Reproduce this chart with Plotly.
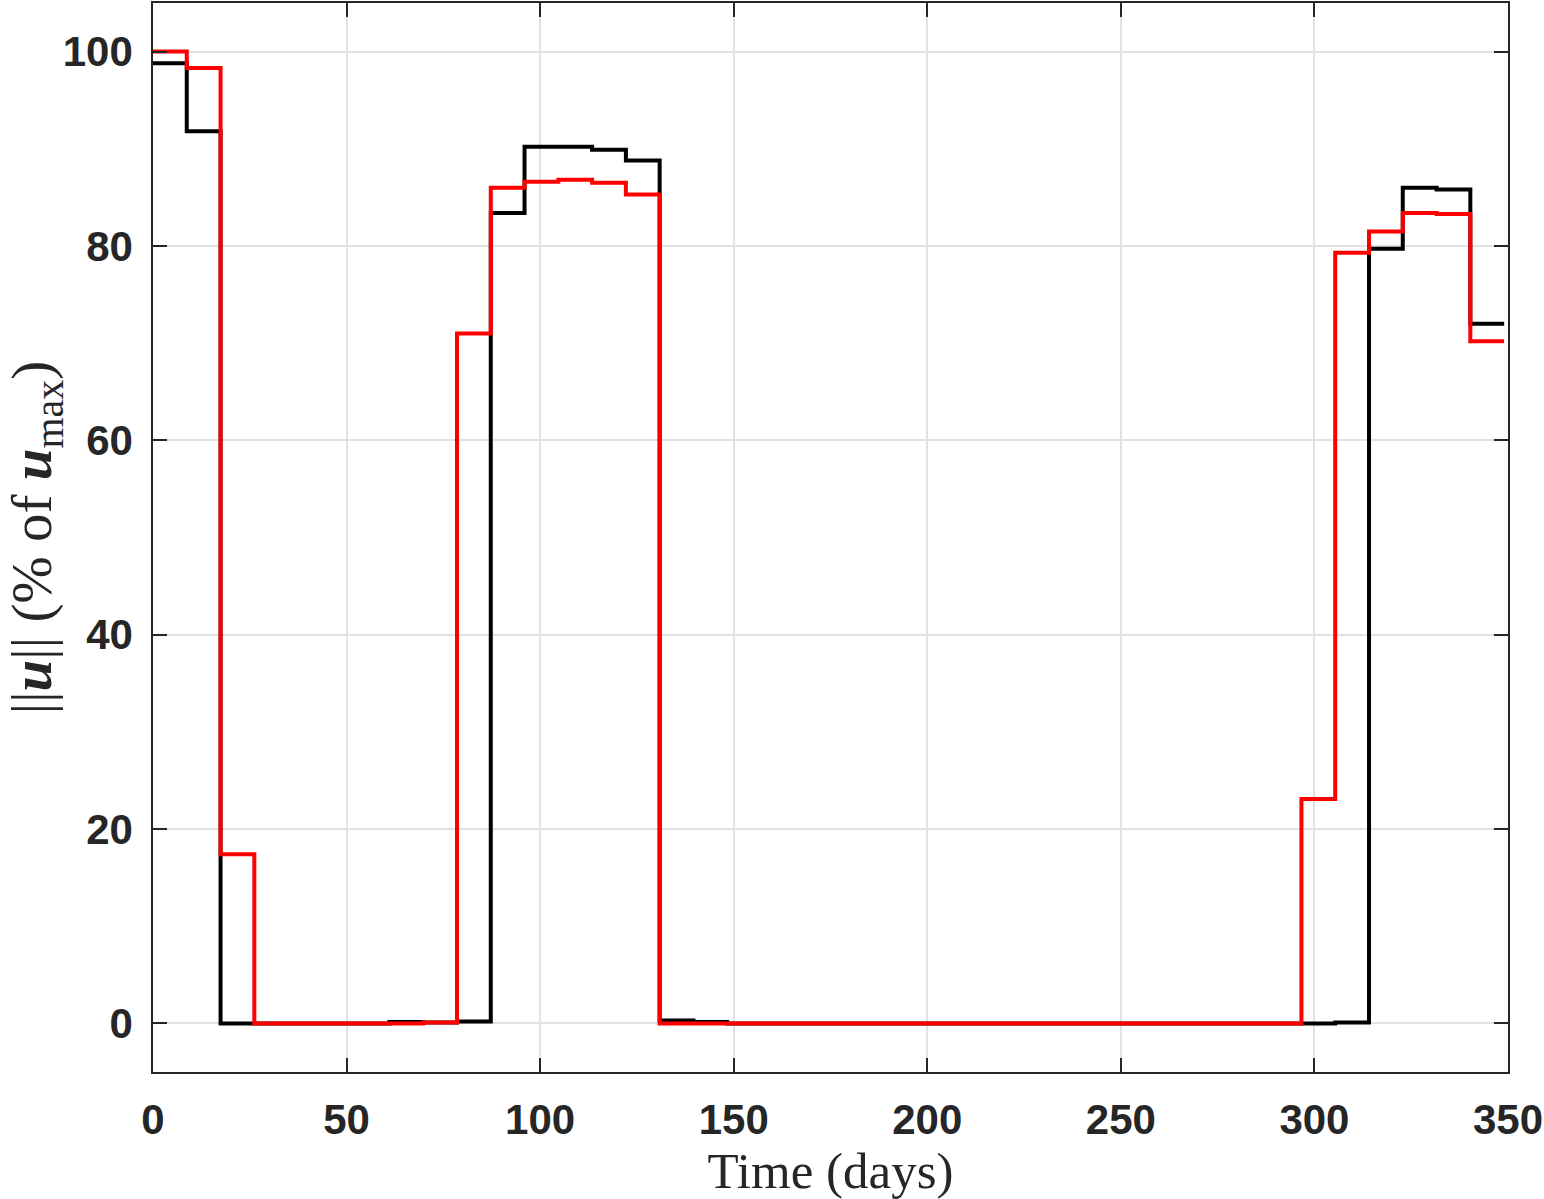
import plotly.graph_objects as go

# step edges (days) and per-interval control magnitudes (% of u_max)
t_edges = [0, 8.72, 17.45, 26.17, 34.9, 43.62, 52.35, 61.07, 69.8, 78.52,
           87.25, 95.97, 104.7, 113.42, 122.15, 130.87, 139.6, 148.32, 157.05, 165.77,
           174.5, 183.22, 191.95, 200.67, 209.4, 218.12, 226.85, 235.57, 244.3, 253.02,
           261.75, 270.47, 279.2, 287.92, 296.65, 305.37, 314.1, 322.82, 331.55, 340.27,
           349.0]

u_black = [98.8, 91.8, 0, 0, 0, 0, 0, 0.15, 0.1, 0.2,
           83.4, 90.2, 90.2, 89.9, 88.8, 0.3, 0.15, 0, 0, 0,
           0, 0, 0, 0, 0, 0, 0, 0, 0, 0,
           0, 0, 0, 0, 0, 0.1, 79.7, 86.0, 85.8, 72.0]

u_red = [100.0, 98.3, 17.4, 0, 0, 0, 0, 0, 0.1, 71.0,
         86.0, 86.6, 86.8, 86.5, 85.3, 0, 0, 0, 0, 0,
         0, 0, 0, 0, 0, 0, 0, 0, 0, 0,
         0, 0, 0, 0, 23.1, 79.3, 81.5, 83.4, 83.3, 70.2]

x_ticks = [0, 50, 100, 150, 200, 250, 300, 350]
y_ticks = [0, 20, 40, 60, 80, 100]

fig = go.Figure()
for vals, col in [(u_black, "#000000"), (u_red, "#ff0000")]:
    fig.add_trace(go.Scatter(x=t_edges, y=vals + [vals[-1]], mode="lines",
                             line=dict(color=col, width=4, shape="hv"),
                             showlegend=False, hoverinfo="skip"))

axis_common = dict(showline=True, linecolor="#262626", linewidth=1.5, mirror="ticks",
                   ticks="inside", ticklen=14, tickwidth=1.5, tickcolor="#262626",
                   showgrid=True, gridcolor="#e2e2e2", gridwidth=1.5, zeroline=False,
                   tickfont=dict(family="Liberation Sans, Arial", size=42, color="#262626",
                                 weight="bold"))
title_font = dict(family="Liberation Serif, serif", size=51, color="#262626")

fig.update_xaxes(range=[0, 350], tickvals=x_ticks, automargin=False, ticklabelstandoff=10,
                 title=dict(text="Time (days)", standoff=18, font=title_font),
                 **axis_common)
fig.update_yaxes(range=[-5, 105], tickvals=y_ticks, automargin=False, ticklabelstandoff=10,
                 title=dict(text="||<b><i>u</i></b>|| (% of <b><i>u</i></b><sub>max</sub>)",
                            standoff=12, font=dict(title_font, size=57)),
                 **axis_common)

fig.update_layout(width=1544, height=1199, plot_bgcolor="white", paper_bgcolor="white",
                  margin=dict(l=153, r=36, t=3, b=127))

fig.write_html("out.html", config={"displayModeBar": False},
               post_script="document.body.style.margin='0';")
